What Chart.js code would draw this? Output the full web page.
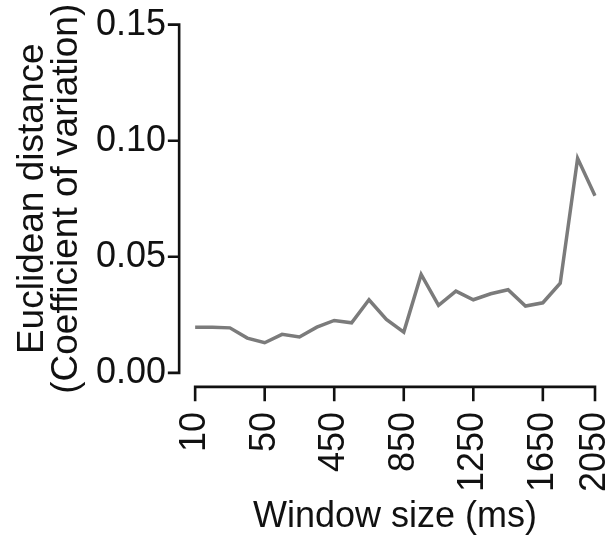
<!DOCTYPE html>
<html>
<head>
<meta charset="utf-8">
<script src="https://cdn.jsdelivr.net/npm/chart.js@4/dist/chart.umd.min.js"></script>
<style>
  html, body { margin: 0; padding: 0; background: #fff; }
  #wrap { width: 612px; height: 540px; }
</style>
</head>
<body>
<div id="wrap"><canvas id="chart"></canvas></div>
<script>
const windowSizes = [10, 20, 30, 40, 50, 150, 250, 350, 450, 550, 650, 750, 850,
  950, 1050, 1150, 1250, 1350, 1450, 1550, 1650, 1750, 1850, 2050];
const distances = [0.0197, 0.0197, 0.0194, 0.0150, 0.0130, 0.0166, 0.0155, 0.0197,
  0.0226, 0.0216, 0.0315, 0.0230, 0.0176, 0.0424, 0.0291, 0.0352, 0.0315, 0.0341,
  0.0358, 0.0288, 0.0302, 0.0386, 0.0924, 0.0763];
const xTickLabels = ['10', '50', '450', '850', '1250', '1650', '2050'];
const yTicks = [0, 0.05, 0.10, 0.15];

const FONT = "'Liberation Sans', Arial, Helvetica, sans-serif";

// R-style axes drawn away from the plot area
const offsetAxes = {
  id: 'offsetAxes',
  afterDraw(chart) {
    const { ctx, chartArea, scales: { x, y } } = chart;
    ctx.save();
    ctx.strokeStyle = '#111';
    ctx.lineWidth = 2.6;
    ctx.lineCap = 'square';

    const ax = chartArea.left - 16;
    ctx.beginPath();
    ctx.moveTo(ax, y.getPixelForValue(yTicks[yTicks.length - 1]));
    ctx.lineTo(ax, y.getPixelForValue(yTicks[0]));
    yTicks.forEach(v => {
      const py = y.getPixelForValue(v);
      ctx.moveTo(ax - 10, py);
      ctx.lineTo(ax, py);
    });
    ctx.stroke();

    const ay = chartArea.bottom + 14;
    const idx = windowSizes.map((w, i) => i).filter(i => xTickLabels.includes(String(windowSizes[i])));
    ctx.beginPath();
    ctx.moveTo(x.getPixelForValue(idx[0]), ay);
    ctx.lineTo(x.getPixelForValue(idx[idx.length - 1]), ay);
    idx.forEach(i => {
      const px = x.getPixelForValue(i);
      ctx.moveTo(px, ay);
      ctx.lineTo(px, ay + 13);
    });
    ctx.stroke();
    ctx.restore();
  }
};

new Chart(document.getElementById('chart'), {
  type: 'line',
  data: {
    labels: windowSizes.map(String),
    datasets: [{
      data: distances,
      borderColor: '#7b7b7b',
      borderWidth: 3.5,
      pointRadius: 0,
      tension: 0,
      fill: false
    }]
  },
  options: {
    responsive: true,
    maintainAspectRatio: false,
    animation: false,
    devicePixelRatio: 1,
    layout: { padding: { left: 0, top: 0, right: 17, bottom: 0 } },
    plugins: { legend: { display: false }, tooltip: { enabled: false } },
    scales: {
      x: {
        offset: false,
        border: { display: false },
        grid: { color: 'rgba(0,0,0,0)', drawOnChartArea: false, tickLength: 34 },
        ticks: {
          autoSkip: false,
          minRotation: 90,
          maxRotation: 90,
          padding: 5,
          color: '#111',
          font: { family: FONT, size: 36 },
          callback: (v, i) => xTickLabels.includes(String(windowSizes[i])) ? String(windowSizes[i]) : null
        },
        // the last rotated label may hang past the plot edge, as in the original
        afterFit: scale => { scale.paddingRight = 0; },
        title: {
          display: true,
          text: 'Window size (ms)',
          color: '#111',
          font: { family: FONT, size: 36, lineHeight: 1 },
          padding: { top: 2, bottom: 5 }
        }
      },
      y: {
        min: 0,
        max: 0.15,
        border: { display: false },
        grid: { color: 'rgba(0,0,0,0)', drawOnChartArea: false, tickLength: 26 },
        ticks: {
          stepSize: 0.05,
          padding: 3,
          color: '#111',
          font: { family: FONT, size: 36 },
          callback: v => v.toFixed(2)
        },
        title: {
          display: true,
          text: ['Euclidean distance', '(Coefficient of variation)'],
          color: '#111',
          font: { family: FONT, size: 37, lineHeight: 0.92 },
          padding: { top: 16, bottom: 9 }
        }
      }
    }
  },
  plugins: [offsetAxes]
});
</script>
</body>
</html>
